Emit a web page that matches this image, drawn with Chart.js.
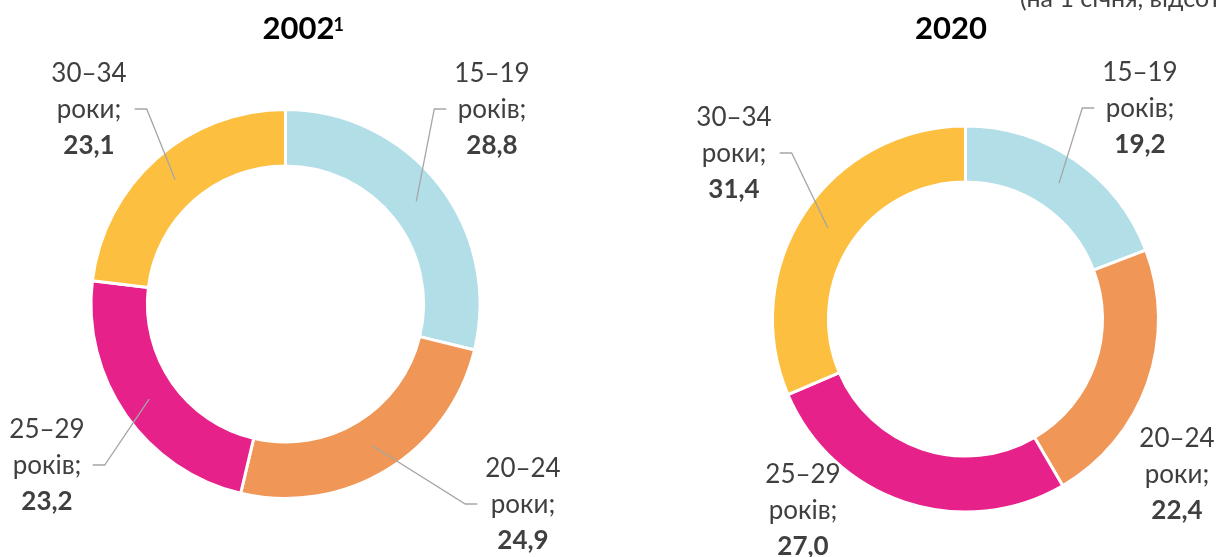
<!DOCTYPE html>
<html lang="uk">
<head>
<meta charset="utf-8">
<title>Вікова структура</title>
<script src="https://cdn.jsdelivr.net/npm/chart.js@4.4.1/dist/chart.umd.min.js"></script>
<style>
  html, body { margin:0; padding:0; background:#fff; }
  body { width:1221px; height:557px; overflow:hidden; position:relative; }
  .half { position:absolute; top:0; height:557px; }
  #wrap-2002 { left:0; width:610px; }
  #wrap-2020 { left:610px; width:611px; }
</style>
</head>
<body>
<div class="half" id="wrap-2002"><canvas id="chart-2002"></canvas></div>
<div class="half" id="wrap-2020"><canvas id="chart-2020"></canvas></div>
<script>
// дані
const ageGroups = ['15–19', '20–24', '25–29', '30–34'];
const ageWords  = ['років;', 'роки;', 'років;', 'роки;'];
const share2002 = [28.8, 24.9, 23.2, 23.1];
const share2020 = [19.2, 22.4, 27.0, 31.4];

const kolory = ['#B2DEE8', '#F09657', '#E6218A', '#FDBF3F'];
const FONT = "Lato, 'Noto Sans', sans-serif";

// положення підписів відносно центру кільця: [dx центру тексту, dy першого рядка]
const spots2002 = [[206.5, -222], [237.5, 173], [-238.5, 134], [-196.5, -222]];
const spots2020 = [[174.5, -238], [211.5, 128], [-162.5, 164], [-231.5, -193]];
const leaders2002 = [true, true, true, true];
const leaders2020 = [true, false, false, true];

const fmt = v => v.toFixed(1).replace('.', ',');

const ringLabels = {
  id: 'ringLabels',
  afterDatasetsDraw(chart, args, o) {
    const { ctx } = chart;
    const meta = chart.getDatasetMeta(0);
    const values = chart.data.datasets[0].data;
    const cx = meta.data[0].x, cy = meta.data[0].y;
    const lh = 36;
    ctx.save();

    // заголовок
    ctx.fillStyle = '#000';
    ctx.textBaseline = 'alphabetic';
    ctx.textAlign = 'center';
    ctx.font = `bold 31px ${FONT}`;
    ctx.fillText(o.title, o.titleX, 39);
    if (o.sup) {
      const w = ctx.measureText(o.title).width;
      ctx.textAlign = 'left';
      ctx.font = `bold 18px ${FONT}`;
      ctx.fillText(o.sup, o.titleX + w / 2 - 1, 31);
    }
    if (o.note) {
      ctx.fillStyle = '#404040';
      ctx.textAlign = 'left';
      ctx.font = `25px ${FONT}`;
      ctx.fillText(o.note, o.noteX, 7);
    }

    meta.data.forEach((arc, i) => {
      const [dx, dy] = o.spots[i];
      const x = cx + dx, y = cy + dy;
      const lines = [ageGroups[i], ageWords[i], fmt(values[i])];
      ctx.textAlign = 'center';
      ctx.fillStyle = '#3F3F3F';
      let maxW = 0;
      lines.forEach((t, k) => {
        ctx.font = (k === 2 ? 'bold ' : '') + `26px ${FONT}`;
        maxW = Math.max(maxW, ctx.measureText(t).width);
        ctx.fillText(t, x, y + k * lh);
      });
      if (!o.leaders[i]) return;
      const p = arc.tooltipPosition();
      const side = x > cx ? -1 : 1;
      const tx = x + side * (maxW / 2 + 8);
      const ty = y + lh - 9;
      const ex = tx + side * 12;
      ctx.strokeStyle = '#A6A6A6';
      ctx.lineWidth = 1.3;
      ctx.beginPath();
      ctx.moveTo(tx, ty);
      ctx.lineTo(ex, ty);
      ctx.lineTo(p.x, p.y);
      ctx.stroke();
    });
    ctx.restore();
  }
};

function kilce(id, values, padding, labelOpts) {
  return new Chart(document.getElementById(id), {
    type: 'doughnut',
    data: {
      labels: ageGroups,
      datasets: [{
        data: values,
        backgroundColor: kolory,
        borderColor: '#fff',
        borderWidth: 3,
        hoverOffset: 0
      }]
    },
    options: {
      responsive: true, maintainAspectRatio: false,
      animation: false,
      cutout: '71%',
      layout: { padding },
      plugins: {
        legend: { display: false },
        tooltip: { enabled: false },
        ringLabels: labelOpts
      }
    },
    plugins: [ringLabels]
  });
}

kilce('chart-2002', share2002,
  { left: 89.5, top: 108, right: 128.5, bottom: 57 },
  { spots: spots2002, leaders: leaders2002, title: '2002', sup: '1', titleX: 298.5 });

kilce('chart-2020', share2020,
  { left: 161, top: 124.5, right: 61, bottom: 43.5 },
  { spots: spots2020, leaders: leaders2020, title: '2020', titleX: 341,
    note: '(на 1 січня, відсотків)', noteX: 410 });
</script>
</body>
</html>
